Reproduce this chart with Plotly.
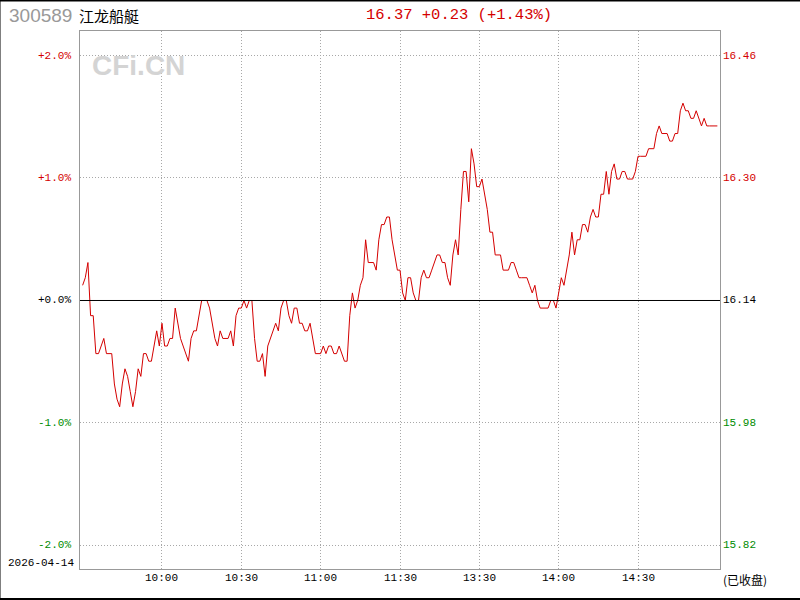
import plotly.graph_objects as go

# ---- data ----
prev_close = 16.14
minutes = list(range(0, 241))
prices = [
    16.16, 16.17, 16.19, 16.12, 16.12, 16.07, 16.07, 16.08, 16.09, 16.07,
    16.07, 16.07, 16.03, 16.01, 16.00, 16.03, 16.05, 16.04, 16.02, 16.00,
    16.02, 16.05, 16.04, 16.07, 16.07, 16.06, 16.06, 16.08, 16.10, 16.08,
    16.11, 16.08, 16.08, 16.09, 16.09, 16.13, 16.11, 16.09, 16.08, 16.07,
    16.06, 16.09, 16.10, 16.10, 16.12, 16.14, 16.14, 16.14, 16.13, 16.11,
    16.09, 16.08, 16.10, 16.09, 16.09, 16.09, 16.10, 16.08, 16.12, 16.13,
    16.13, 16.14, 16.13, 16.14, 16.14, 16.09, 16.06, 16.06, 16.07, 16.04,
    16.08, 16.09, 16.10, 16.11, 16.10, 16.13, 16.14, 16.14, 16.12, 16.11,
    16.13, 16.13, 16.11, 16.11, 16.10, 16.10, 16.11, 16.09, 16.07, 16.07,
    16.07, 16.08, 16.07, 16.08, 16.08, 16.07, 16.07, 16.08, 16.07, 16.06,
    16.06, 16.12, 16.15, 16.13, 16.14, 16.16, 16.17, 16.22, 16.19, 16.19,
    16.19, 16.18, 16.22, 16.24, 16.24, 16.25, 16.25, 16.22, 16.20, 16.18,
    16.18, 16.15, 16.14, 16.17, 16.17, 16.15, 16.14, 16.14, 16.17, 16.18,
    16.17, 16.17, 16.18, 16.19, 16.20, 16.20, 16.19, 16.19, 16.17, 16.16,
    16.20, 16.22, 16.20, 16.26, 16.31, 16.31, 16.27, 16.34, 16.32, 16.29,
    16.29, 16.30, 16.28, 16.26, 16.23, 16.23, 16.20, 16.20, 16.20, 16.18,
    16.18, 16.18, 16.19, 16.19, 16.18, 16.17, 16.17, 16.17, 16.17, 16.16,
    16.15, 16.16, 16.14, 16.13, 16.13, 16.13, 16.13, 16.14, 16.14, 16.13,
    16.15, 16.17, 16.16, 16.18, 16.20, 16.23, 16.20, 16.22, 16.22, 16.24,
    16.24, 16.23, 16.25, 16.26, 16.25, 16.25, 16.28, 16.28, 16.31, 16.28,
    16.31, 16.32, 16.30, 16.30, 16.31, 16.31, 16.30, 16.30, 16.30, 16.31,
    16.33, 16.33, 16.33, 16.33, 16.34, 16.34, 16.34, 16.36, 16.37, 16.36,
    16.36, 16.36, 16.35, 16.35, 16.36, 16.36, 16.39, 16.40, 16.39, 16.39,
    16.38, 16.38, 16.39, 16.38, 16.37, 16.38, 16.37, 16.37, 16.37, 16.37,
    16.37,
]
tick_minutes = [30, 60, 90, 120, 150, 180, 210]
tick_labels = ["10:00", "10:30", "11:00", "11:30", "13:30", "14:00", "14:30"]
pct_ticks = [2, 1, 0, -1, -2]
left_labels = ["+2.0%", "+1.0%", "+0.0%", "-1.0%", "-2.0%"]
right_labels = ["16.46", "16.30", "16.14", "15.98", "15.82"]
code = "300589"
name = "江龙船艇"
quote = "16.37 +0.23 (+1.43%)"
date_text = "2026-04-14"
status = "(已收盘)"

pcts = [(p / prev_close - 1) * 100 for p in prices]

RED = "#d40000"
GREEN = "#008c00"
MONO = "Liberation Mono, DejaVu Sans Mono, monospace"

def tick_color(v):
    return RED if v > 0 else (GREEN if v < 0 else "#000000")

fig = go.Figure()
fig.add_trace(go.Scatter(x=minutes, y=pcts, mode="lines",
                         line=dict(color=RED, width=1), hoverinfo="skip"))

fig.update_layout(
    width=800, height=600,
    margin=dict(l=80, r=80, t=31, b=31),
    paper_bgcolor="white", plot_bgcolor="white",
    showlegend=False,
    xaxis=dict(range=[-1.0, 241.0], tickvals=tick_minutes, showticklabels=False,
               showgrid=True, gridcolor="#a8a8a8", griddash="1px,2px", gridwidth=1,
               zeroline=False, showline=True, linecolor="#999999", linewidth=1,
               mirror=True, ticks=""),
    yaxis=dict(range=[-2.192, 2.2], tickvals=[2, 1, -1, -2], showticklabels=False,
               showgrid=True, gridcolor="#a8a8a8", griddash="1px,2px", gridwidth=1,
               zeroline=False, showline=True, linecolor="#999999", linewidth=1,
               mirror=True, ticks=""),
)

# zero line
fig.add_shape(type="line", xref="paper", yref="y", x0=0, x1=1, y0=0, y1=0,
              line=dict(color="black", width=1))
# outer border
fig.add_shape(type="rect", xref="paper", yref="paper",
              x0=-80.5 / 640, x1=719.0 / 640 + 80 / 640, y0=-30.0 / 538, y1=1 + 30.5 / 538,
              line=dict(color="black", width=2))

ann = []
for v, lt, rt in zip(pct_ticks, left_labels, right_labels):
    c = tick_color(v)
    ann.append(dict(xref="paper", yref="y", x=0, y=v, text=lt, showarrow=False,
                    xanchor="right", yanchor="middle", xshift=-7,
                    font=dict(family=MONO, size=11, color=c)))
    ann.append(dict(xref="paper", yref="y", x=1, y=v, text=rt, showarrow=False,
                    xanchor="left", yanchor="middle", xshift=1,
                    font=dict(family=MONO, size=11, color=c)))
for m, t in zip(tick_minutes, tick_labels):
    ann.append(dict(xref="x", yref="paper", x=m, y=0, text=t, showarrow=False,
                    xanchor="center", yanchor="middle", yshift=-9,
                    font=dict(family=MONO, size=11, color="black")))
ann.append(dict(xref="paper", yref="paper", x=0, y=0, text=date_text, showarrow=False,
                xanchor="left", yanchor="middle", xshift=-74, yshift=6,
                font=dict(family=MONO, size=11, color="black")))
ann.append(dict(xref="paper", yref="paper", x=1, y=0, text=status, showarrow=False,
                xanchor="left", yanchor="middle", xshift=1, yshift=-10,
                font=dict(family="Noto Sans CJK SC", size=12, color="black")))
ann.append(dict(xref="paper", yref="paper", x=0, y=1, text=code, showarrow=False,
                xanchor="left", yanchor="middle", xshift=-73, yshift=16,
                font=dict(family="Liberation Sans, Arial", size=19, color="#999999")))
ann.append(dict(xref="paper", yref="paper", x=0, y=1, text=name, showarrow=False,
                xanchor="left", yanchor="middle", xshift=-3, yshift=16,
                font=dict(family="Noto Sans CJK SC", size=15, color="black")))
ann.append(dict(xref="paper", yref="paper", x=(459 - 80) / 640, y=1, text=quote,
                showarrow=False, xanchor="center", yanchor="middle", yshift=16,
                font=dict(family=MONO, size=15.5, color=RED)))
ann.append(dict(xref="paper", yref="paper", x=(138 - 80) / 640, y=1, text="<b>CFi.CN</b>",
                showarrow=False, xanchor="center", yanchor="middle", yshift=-34,
                font=dict(family="Liberation Sans, Arial", size=28, color="#d4d4d4")))
fig.update_layout(annotations=ann)

fig.write_html("out.html", config={"displayModeBar": False},
               post_script="document.body.style.margin='0';document.body.style.overflow='hidden';")
